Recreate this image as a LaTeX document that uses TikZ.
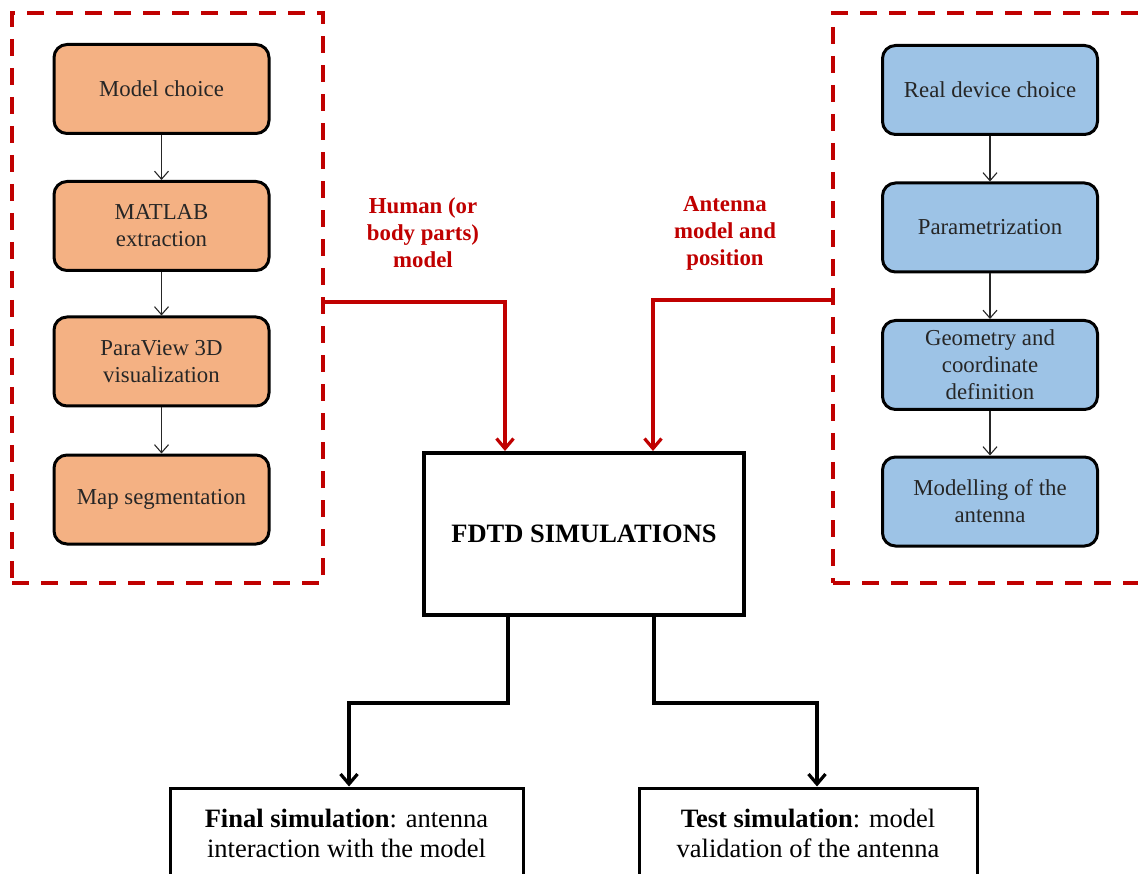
\documentclass[tikz,border=0pt]{standalone}
\usepackage{fontspec}
\setmainfont{Liberation Serif}
\usetikzlibrary{arrows.meta}
\definecolor{dred}{HTML}{C00000}
\definecolor{orangefill}{HTML}{F4B183}
\definecolor{bluefill}{HTML}{9DC3E6}
\definecolor{txt}{HTML}{262626}
\newcommand\bxfont{\fontsize{22.8}{27}\selectfont}
\newcommand\bigfont{\fontsize{26.5}{30}\selectfont}
\tikzset{
  stepbox/.style={draw=black, line width=3pt, rounded corners=13pt,
    minimum width=215pt, minimum height=89pt, align=center, text=txt,
    font=\bxfont, inner sep=2pt},
  orangebox/.style={stepbox, fill=orangefill},
  bluebox/.style={stepbox, fill=bluefill},
  groupbox/.style={draw=dred, line width=4pt, dash pattern=on 17pt off 12pt, inner sep=0pt},
  thinarrow/.style={draw=txt, line width=1.1pt, -{Straight Barb[length=8pt,width=14pt]}},
  redarrow/.style={draw=dred, line width=3.2pt, -{Straight Barb[length=10pt,width=17pt]}},
  blackarrow/.style={draw=black, line width=3.2pt, -{Straight Barb[length=10pt,width=17pt]}},
  redlabel/.style={text=dred, font=\bxfont\bfseries, align=center},
  resultbox/.style={draw=black, line width=3pt, align=center, text=black, font=\bigfont, inner sep=0pt},
}
\begin{document}
\begin{tikzpicture}[x=1pt, y={(0pt,-1pt)}]
\useasboundingbox (0,0) rectangle (1138,874);
\clip (0,0) rectangle (1138,874);
\fill[white] (0,0) rectangle (1138,874);

% group frames
\node[groupbox, minimum width=311pt, minimum height=570pt] (lgroup) at (167.5,298) {};
\node[groupbox, minimum width=317pt, minimum height=570pt] (rgroup) at (991.5,298) {};

% left column
\node[orangebox] (m1) at (161.5,89) {Model choice};
\node[orangebox] (m2) at (161.5,226) {MATLAB\\extraction};
\node[orangebox] (m3) at (161.5,361.5) {ParaView 3D\\visualization};
\node[orangebox] (m4) at (161.5,499.5) {Map segmentation};
\draw[thinarrow] (m1) -- (m2);
\draw[thinarrow] (m2) -- (m3);
\draw[thinarrow] (m3) -- (m4);

% right column
\node[bluebox] (a1) at (990,90) {Real device choice};
\node[bluebox] (a2) at (990,227.5) {Parametrization};
\node[bluebox] (a3) at (990,365) {Geometry and\\coordinate\\definition};
\node[bluebox] (a4) at (990,501.5) {Modelling of the\\antenna};
\draw[thinarrow] (a1) -- (a2);
\draw[thinarrow] (a2) -- (a3);
\draw[thinarrow] (a3) -- (a4);

% central box
\node[draw=black, line width=4pt, minimum width=320pt, minimum height=162pt,
      font=\bigfont\bfseries, text=black] (fdtd) at (584,534) {FDTD SIMULATIONS};

% labels
\node[redlabel] (lh) at (423,233) {Human (or\\body parts)\\model};
\node[redlabel] (la) at (725,233) {Antenna\\model and\\position};

% red connectors
\coordinate (lk) at (505,302);
\coordinate (rk) at (653,300);
\draw[redarrow] (lgroup.east |- lk) -| (fdtd.north -| lk);
\draw[redarrow] (rgroup.west |- rk) -| (fdtd.north -| rk);

% result boxes
\node[resultbox, minimum width=353pt, minimum height=90pt] (final) at (346.5,833)
  {\textbf{Final simulation}: antenna\\interaction with the model};
\node[resultbox, minimum width=338pt, minimum height=90pt] (test) at (808,833)
  {\textbf{Test simulation}: model\\validation of the antenna};

% black connectors
\coordinate (bl) at (508,703);
\coordinate (bl2) at (349,703);
\coordinate (br) at (654,703);
\coordinate (br2) at (817,703);
\draw[blackarrow] (fdtd.south -| bl) -- (bl) -- (bl2) -- (final.north -| bl2);
\draw[blackarrow] (fdtd.south -| br) -- (br) -- (br2) -- (test.north -| br2);
\end{tikzpicture}
\end{document}
